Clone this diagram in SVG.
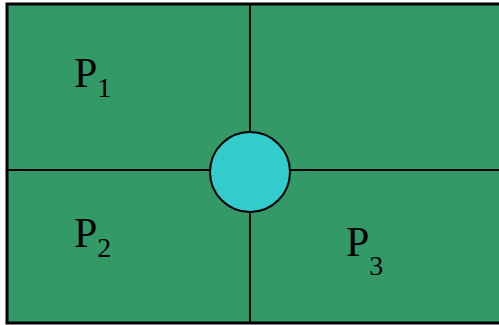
<svg xmlns="http://www.w3.org/2000/svg" width="499" height="325" viewBox="0 0 499 325">
<style>
.lbl{font-family:"Liberation Serif","Times New Roman",serif;font-size:42px;fill:#000}
.sub{font-size:28px}
.ln{stroke:#000;stroke-width:2;fill:none}
</style>
<g id="background"><rect x="7" y="4" width="500" height="319" fill="#339966" stroke="#000" stroke-width="3"/></g>
<g id="connectors">
<line class="ln" x1="7" y1="170" x2="499" y2="170"/>
<line class="ln" x1="250" y1="4" x2="250" y2="323"/>
</g>
<g id="center"><circle cx="250" cy="172" r="40" fill="#33CCCC" stroke="#000" stroke-width="2"/></g>
<g id="p1"><text class="lbl" x="74" y="87">P<tspan class="sub" dy="10">1</tspan></text></g>
<g id="p2"><text class="lbl" x="74" y="247">P<tspan class="sub" dy="10">2</tspan></text></g>
<g id="p3"><text class="lbl" x="346" y="256">P<tspan class="sub" dy="19">3</tspan></text></g>
</svg>
